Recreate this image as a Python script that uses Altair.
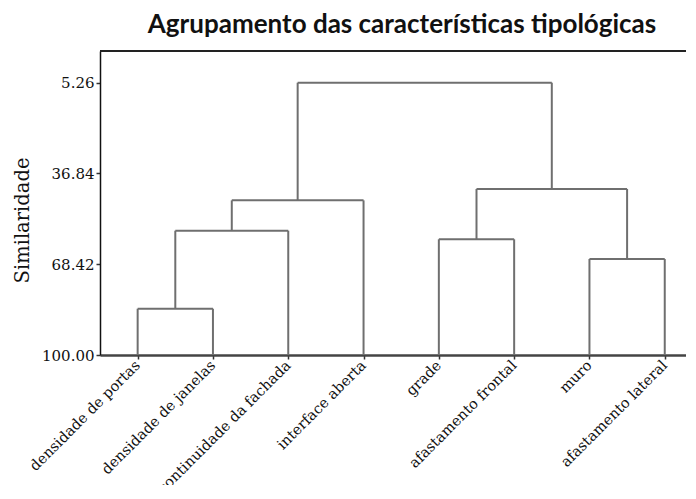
import altair as alt
import pandas as pd

# --- data ---------------------------------------------------------------
leaves = ["densidade de portas", "densidade de janelas", "continuidade da fachada",
          "interface aberta", "grade", "afastamento frontal", "muro",
          "afastamento lateral"]
# merges: node ids 0..7 are leaves, 8.. are merges in order
merge_left = [0, 8, 9, 4, 6, 11, 10]
merge_right = [1, 2, 3, 5, 7, 12, 13]
merge_sim = [83.9, 56.75, 46.2, 59.74, 66.6, 42.24, 5.26]
y_ticks = [5.26, 36.84, 68.42, 100.00]

# --- build dendrogram segments -------------------------------------------
node_x = [i + 1 for i in range(len(leaves))]
node_y = [100.0 for _ in leaves]
rows = []
for l, r, s in zip(merge_left, merge_right, merge_sim):
    rows.append({"x": node_x[l], "x2": node_x[l], "y": node_y[l], "y2": s})
    rows.append({"x": node_x[r], "x2": node_x[r], "y": node_y[r], "y2": s})
    rows.append({"x": node_x[l], "x2": node_x[r], "y": s, "y2": s})
    node_x.append((node_x[l] + node_x[r]) / 2)
    node_y.append(s)
seg = pd.DataFrame(rows)

W, H = 586, 304
x_dom = [0.5, 0.5 + W / 75.3]
y_dom = [-5.77, 100]

label_expr = "[" + ",".join("'%s'" % s for s in leaves) + "][datum.value - 1]"

serif = "DejaVu Serif"

lines = alt.Chart(seg).mark_rule(color="#6f6f6f", strokeWidth=2).encode(
    x=alt.X("x:Q", scale=alt.Scale(domain=x_dom, nice=False, zero=False),
            axis=alt.Axis(values=list(range(1, len(leaves) + 1)), labelExpr=label_expr,
                          labelAngle=-45, labelAlign="right", labelBaseline="middle",
                          labelFont=serif, labelFontSize=14.5, labelColor="#111",
                          labelOverlap=False, labelBound=False, labelLimit=0,
                          labelPadding=4, tickSize=4, tickColor="#333", tickWidth=1.5,
                          domainColor="#444", domainWidth=2.5, grid=False, title=None)),
    x2="x2:Q",
    y=alt.Y("y:Q", scale=alt.Scale(domain=y_dom, reverse=True, nice=False, zero=False),
            axis=alt.Axis(values=y_ticks, format=".2f", labelFont=serif, labelFontSize=15,
                          labelColor="#111", tickSize=4, tickColor="#333", tickWidth=1.5,
                          domainColor="#111", domainWidth=1.5, grid=False,
                          title="Similaridade", titleFont=serif, titleFontSize=19.5,
                          titleFontWeight="normal", titleColor="#111",
                          titleX=-78, titleY=169, titleAlign="center",
                          titleBaseline="middle", titleAngle=-90)),
    y2="y2:Q",
)

top = alt.Chart(seg.head(1)).mark_rule(color="#222", strokeWidth=2).encode(
    x=alt.value(0), x2=alt.value(W), y=alt.value(0)
)

chart = alt.layer(top, lines).properties(
    width=W, height=H,
    title=alt.TitleParams("Agrupamento das características tipológicas", font="Lato",
                          fontSize=26, fontWeight="bold", color="#111", anchor="middle",
                          dx=9, offset=12),
    autosize=alt.AutoSizeParams(type="none"),
    padding={"left": 92, "top": 43, "right": 0, "bottom": 130},
).configure_view(stroke=None)

chart.save("out.html", embed_options={"renderer": "svg", "actions": False})
